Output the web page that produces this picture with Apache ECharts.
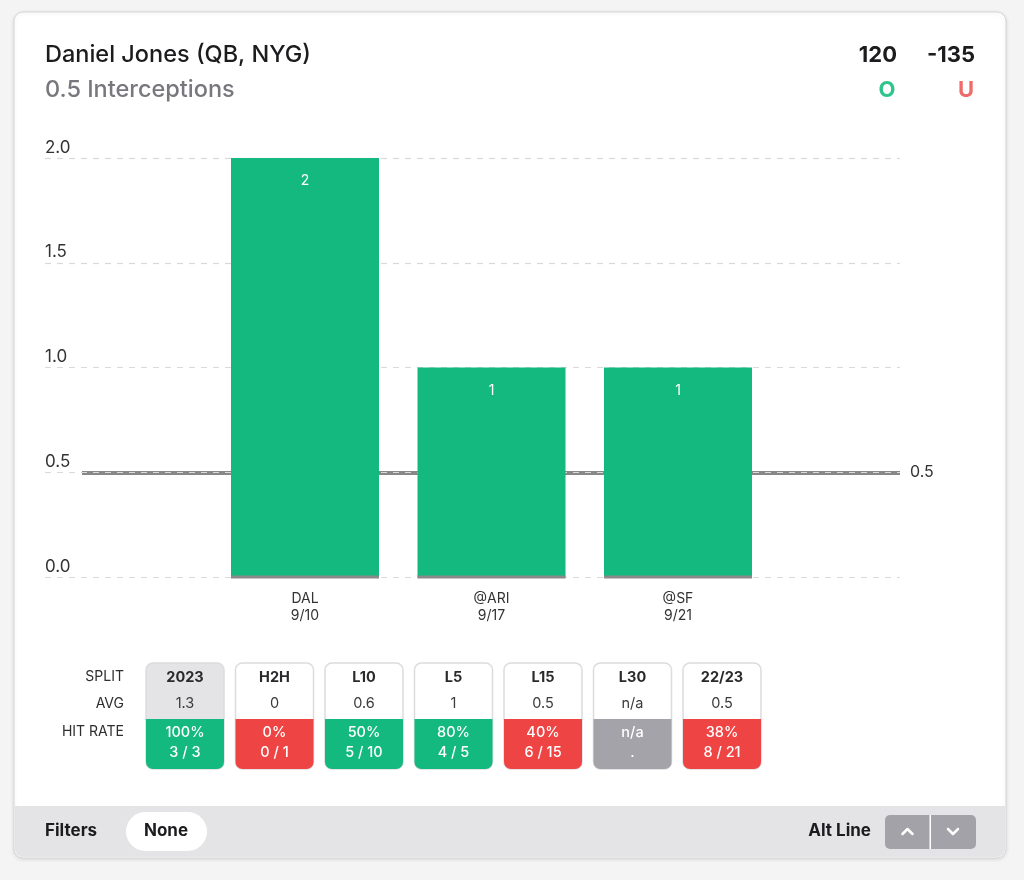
<!DOCTYPE html>
<html><head><meta charset="utf-8">
<script src="https://cdn.jsdelivr.net/npm/echarts@6/dist/echarts.min.js"></script>
<style>html,body{margin:0;padding:0;background:#f4f4f5;}#c{width:1024px;height:880px;}</style>
</head><body><div id="c"></div>
<script>
// ---- data ----
const playerName = 'Daniel Jones (QB, NYG)';
const propLabel = '0.5 Interceptions';
const overOdds = '120';
const underOdds = '-135';
const lineValue = 0.5;
const gameOpponents = ['DAL', '@ARI', '@SF'];
const gameDates = ['9/10', '9/17', '9/21'];
const gameValues = [2, 1, 1];
const yTicks = [0, 0.5, 1, 1.5, 2];
const splitNames = ['2023', 'H2H', 'L10', 'L5', 'L15', 'L30', '22/23'];
const splitAvgs = ['1.3', '0', '0.6', '1', '0.5', 'n/a', '0.5'];
const splitHitPct = ['100%', '0%', '50%', '80%', '40%', 'n/a', '38%'];
const splitHitCount = ['3 / 3', '0 / 1', '5 / 10', '4 / 5', '6 / 15', '.', '8 / 21'];
const splitStatus = ['hit', 'miss', 'hit', 'hit', 'miss', 'none', 'miss'];
const rowLabels = ['SPLIT', 'AVG', 'HIT RATE'];

// ---- style ----
const GREEN = '#14b980', RED = '#ef4444', GRAYC = '#a3a3a9';
const FONT = 'Inter, "Noto Sans", sans-serif';
const statusColor = {hit: GREEN, miss: RED, none: GRAYC};

const chart = echarts.init(document.getElementById('c'), null, {renderer: 'canvas'});
const gridTop = 158, gridBottom = 880 - 577;

const graphics = [];
// card background
graphics.push({type: 'rect', z: -100, shape: {x: 14, y: 12, width: 992, height: 846, r: 9},
  style: {fill: '#fff', stroke: '#d6d6d8', lineWidth: 1, shadowBlur: 4, shadowColor: 'rgba(0,0,0,0.12)', shadowOffsetY: 1}});
graphics.push({type: 'rect', z: -99, shape: {x: 15, y: 806, width: 990, height: 51, r: [0, 0, 8, 8]},
  style: {fill: '#e4e4e7'}});
// header
graphics.push({type: 'text', x: 45, y: 55, style: {text: playerName, font: '500 23.5px ' + FONT, fill: '#1c1c1e', textVerticalAlign: 'middle'}});
graphics.push({type: 'text', x: 45, y: 90, style: {text: propLabel, font: '500 23.5px ' + FONT, fill: '#77777d', textVerticalAlign: 'middle'}});
graphics.push({type: 'text', x: 897, y: 55, style: {text: overOdds, font: 'bold 22px ' + FONT, fill: '#1c1c1e', textAlign: 'right', textVerticalAlign: 'middle'}});
graphics.push({type: 'text', x: 975, y: 55, style: {text: underOdds, font: 'bold 22px ' + FONT, fill: '#1c1c1e', textAlign: 'right', textVerticalAlign: 'middle'}});
graphics.push({type: 'text', x: 887, y: 90, style: {text: 'O', font: 'bold 22px ' + FONT, fill: '#2dc58c', textAlign: 'center', textVerticalAlign: 'middle'}});
graphics.push({type: 'text', x: 966, y: 90, style: {text: 'U', font: 'bold 22px ' + FONT, fill: '#f06a6a', textAlign: 'center', textVerticalAlign: 'middle'}});
// split table row labels
const rowY = [677, 704, 732];
rowLabels.forEach((t, i) => graphics.push({type: 'text', x: 124, y: rowY[i],
  style: {text: t, font: '14px ' + FONT, fill: '#2e2e30', textAlign: 'right', textVerticalAlign: 'middle'}}));
// split cards
splitNames.forEach((name, i) => {
  const x = 146 + i * 89.5, w = 78, top = 663, mid = 719, bot = 769;
  const col = statusColor[splitStatus[i]];
  graphics.push({type: 'rect', shape: {x: x, y: top, width: w, height: bot - top, r: 7},
    style: {fill: i === 0 ? '#e4e4e7' : '#fff', stroke: '#dcdcde', lineWidth: 1.5}});
  graphics.push({type: 'rect', shape: {x: x, y: mid, width: w, height: bot - mid, r: [0, 0, 7, 7]},
    style: {fill: col}});
  const cx = x + w / 2;
  graphics.push({type: 'text', x: cx, y: 678, style: {text: name, font: 'bold 14.5px ' + FONT, fill: '#2a2a2c', textAlign: 'center', textVerticalAlign: 'middle'}});
  graphics.push({type: 'text', x: cx, y: 704, style: {text: splitAvgs[i], font: '14.5px ' + FONT, fill: '#3a3a3c', textAlign: 'center', textVerticalAlign: 'middle'}});
  graphics.push({type: 'text', x: cx, y: 733, style: {text: splitHitPct[i], font: '500 14.5px ' + FONT, fill: '#fff', textAlign: 'center', textVerticalAlign: 'middle'}});
  graphics.push({type: 'text', x: cx, y: 753, style: {text: splitHitCount[i], font: '500 14.5px ' + FONT, fill: '#fff', textAlign: 'center', textVerticalAlign: 'middle'}});
});
// footer
graphics.push({type: 'text', x: 45, y: 831, style: {text: 'Filters', font: 'bold 17px ' + FONT, fill: '#1c1c1e', textVerticalAlign: 'middle'}});
graphics.push({type: 'rect', shape: {x: 126, y: 812, width: 81, height: 39, r: 19.5}, style: {fill: '#fff'}});
graphics.push({type: 'text', x: 166, y: 831, style: {text: 'None', font: 'bold 17px ' + FONT, fill: '#1c1c1e', textAlign: 'center', textVerticalAlign: 'middle'}});
graphics.push({type: 'text', x: 871, y: 831, style: {text: 'Alt Line', font: 'bold 17px ' + FONT, fill: '#1c1c1e', textAlign: 'right', textVerticalAlign: 'middle'}});
graphics.push({type: 'rect', shape: {x: 885, y: 815, width: 91, height: 34, r: 5}, style: {fill: '#a2a2a8'}});
graphics.push({type: 'rect', shape: {x: 929.5, y: 815, width: 1.5, height: 34}, style: {fill: '#fff'}});
graphics.push({type: 'polyline', shape: {points: [[902.5, 834], [907.5, 829], [912.5, 834]]}, style: {stroke: '#fff', lineWidth: 2.5, fill: null, lineCap: 'round', lineJoin: 'round'}});
graphics.push({type: 'polyline', shape: {points: [[948, 829], [953, 834], [958, 829]]}, style: {stroke: '#fff', lineWidth: 2.5, fill: null, lineCap: 'round', lineJoin: 'round'}});

const yMin = yTicks[0], yMax = yTicks[yTicks.length - 1], yInt = yTicks[1] - yTicks[0];
const hiddenY = (idx) => ({type: 'value', gridIndex: idx, min: yMin, max: yMax, interval: yInt, show: false});

chart.setOption({
  animation: false,
  backgroundColor: 'transparent',
  grid: [
    {left: 45, right: 124, top: gridTop, bottom: gridBottom},
    {left: 211.75, right: 1024 - 771.25, top: gridTop, bottom: gridBottom},
    {left: 82, right: 124, top: gridTop, bottom: gridBottom}
  ],
  xAxis: [
    {type: 'value', gridIndex: 0, show: false, min: 0, max: 1},
    {type: 'category', gridIndex: 1, data: gameOpponents.map((o, i) => o + '\n' + gameDates[i]),
      axisLine: {show: false}, axisTick: {show: false},
      axisLabel: {margin: 13, color: '#333', fontSize: 14, lineHeight: 17, fontFamily: FONT}},
    {type: 'value', gridIndex: 2, show: false, min: 0, max: 1}
  ],
  yAxis: [
    {type: 'value', gridIndex: 0, min: yMin, max: yMax, interval: yInt, z: 3,
      axisLine: {show: false}, axisTick: {show: false},
      splitLine: {show: true, lineStyle: {color: '#d9d9d9', type: [6, 6], width: 1.2}},
      axisLabel: {inside: true, margin: 0, verticalAlign: 'bottom', padding: [0, 0, 2, 0],
        color: '#333', fontSize: 17, fontFamily: FONT, formatter: v => v.toFixed(1)}},
    hiddenY(1),
    hiddenY(2)
  ],
  graphic: {elements: graphics},
  series: [
    {type: 'line', xAxisIndex: 2, yAxisIndex: 2, data: [], z: 1, silent: true,
      markLine: {symbol: 'none', silent: true, z: 1,
        lineStyle: {color: '#888888', width: 4, type: 'solid'},
        label: {position: 'end', distance: 10, padding: [4, 0, 0, 0], color: '#333', fontSize: 16, fontFamily: FONT, formatter: String(lineValue)},
        data: [{yAxis: lineValue}]}},
    {type: 'bar', xAxisIndex: 1, yAxisIndex: 1, data: gameValues, barWidth: 148, z: 5,
      itemStyle: {color: GREEN},
      label: {show: true, position: 'insideTop', distance: 16, color: '#fff', fontSize: 14, fontFamily: FONT}},
    {type: 'custom', xAxisIndex: 1, yAxisIndex: 1, z: 6, data: gameValues.map((v, i) => [i, 0]),
      renderItem: function (params, api) {
        const p = api.coord([api.value(0), api.value(1)]);
        return {type: 'rect', shape: {x: p[0] - 74, y: p[1] - 1.5, width: 148, height: 3}, style: {fill: '#8a8a8a'}};
      }}
  ]
});
</script></body></html>
